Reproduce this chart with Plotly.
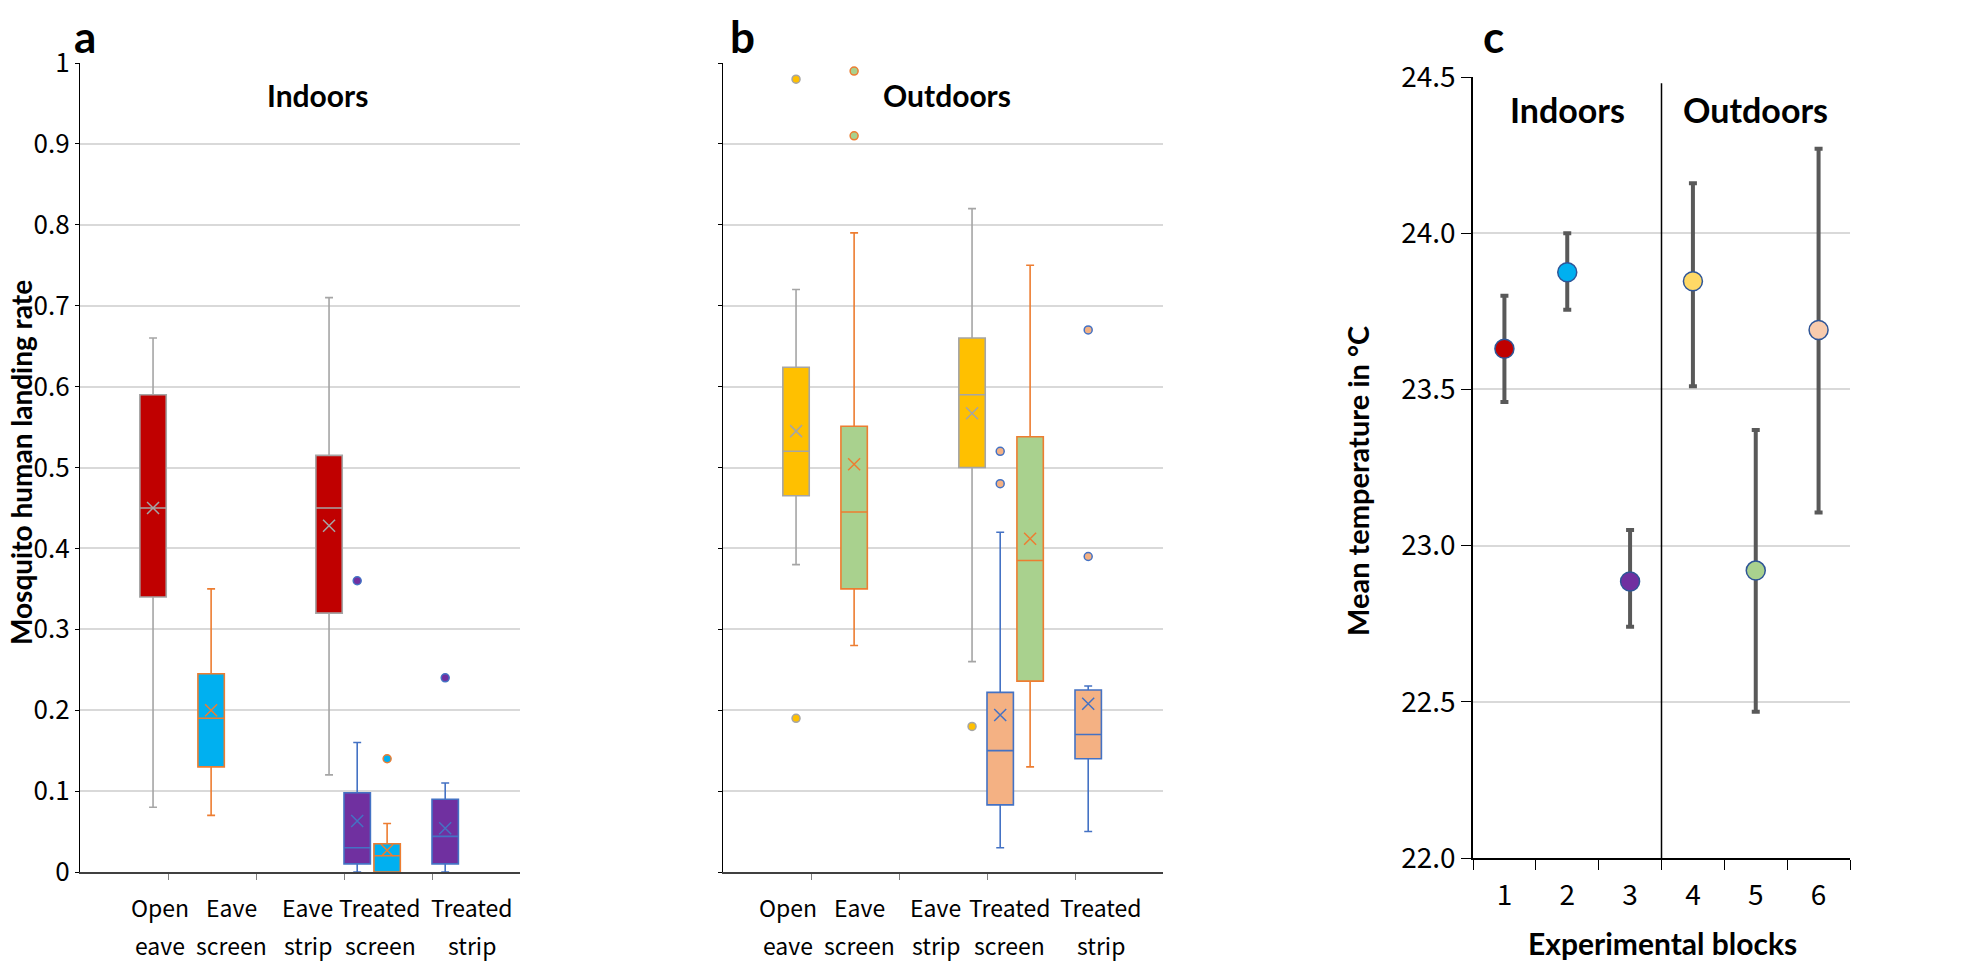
import plotly.graph_objects as go

# ---------------- DATA ----------------
categories = ["Open eave", "Eave screen", "Eave strip", "Treated screen", "Treated strip"]

# Panel a (Indoors) boxes, left to right
in_low    = [0.08, 0.07, 0.12, 0.00, 0.00, 0.00]
in_q1     = [0.34, 0.13, 0.32, 0.01, 0.00, 0.01]
in_median = [0.45, 0.19, 0.45, 0.03, 0.02, 0.044]
in_q3     = [0.59, 0.245, 0.515, 0.098, 0.035, 0.09]
in_high   = [0.66, 0.35, 0.71, 0.16, 0.06, 0.11]
in_mean   = [0.45, 0.20, 0.428, 0.063, 0.027, 0.054]
in_outliers = [[], [], [], [0.36], [0.14], [0.24]]

# Panel b (Outdoors) boxes, left to right
out_low    = [0.38, 0.28, 0.26, 0.03, 0.13, 0.05]
out_q1     = [0.465, 0.35, 0.50, 0.083, 0.236, 0.14]
out_median = [0.52, 0.445, 0.59, 0.15, 0.385, 0.17]
out_q3     = [0.624, 0.551, 0.66, 0.222, 0.538, 0.225]
out_high   = [0.72, 0.79, 0.82, 0.42, 0.75, 0.23]
out_mean   = [0.545, 0.504, 0.567, 0.194, 0.412, 0.208]
out_outliers = [[0.98, 0.19], [0.99, 0.91], [0.18], [0.52, 0.48], [], [0.67, 0.39]]

# Panel c temperatures
blocks = ["1", "2", "3", "4", "5", "6"]
temp_mean  = [23.63, 23.875, 22.885, 23.846, 22.92, 23.69]
temp_upper = [23.80, 24.00, 23.05, 24.16, 23.37, 24.27]
temp_lower = [23.46, 23.755, 22.74, 23.51, 22.468, 23.106]

y_ticks_a = [0, 0.1, 0.2, 0.3, 0.4, 0.5, 0.6, 0.7, 0.8, 0.9, 1]
y_ticks_c = [22.0, 22.5, 23.0, 23.5, 24.0, 24.5]

# ---------------- STYLE / LAYOUT ----------------
W, H = 1961, 966
OFF = 8  # page body margin
def px(x): return (x - OFF) / W
def py(y): return 1 - (y - OFF) / H

box_pos = [0.83, 1.49, 2.83, 3.15, 3.49, 4.15]
in_fill = ["#C00000", "#00B0F0", "#C00000", "#7030A0", "#00B0F0", "#7030A0"]
out_fill = ["#FFC000", "#A9D18E", "#FFC000", "#F4B183", "#A9D18E", "#F4B183"]
edge = ["#A5A5A5", "#ED7D31", "#A5A5A5", "#4472C4", "#ED7D31", "#4472C4"]
temp_colors = ["#C00000", "#00B0F0", "#7030A0", "#FFD966", "#A9D18E", "#F8CBAD"]

REG = "Noto Sans CJK SC, Roboto, sans-serif"
BOLD = "Lato, Open Sans, sans-serif"

fig = go.Figure()

def add_panel(xa, ya, low, q1, med, q3, high, mean, outl, fills):
    for i in range(len(q1)):
        fig.add_trace(go.Box(
            x=[box_pos[i]], q1=[q1[i]], median=[med[i]], q3=[q3[i]],
            lowerfence=[low[i]], upperfence=[high[i]],
            width=0.30, whiskerwidth=0.3, boxpoints=False,
            fillcolor=fills[i], line=dict(color=edge[i], width=1.6),
            xaxis=xa, yaxis=ya, showlegend=False, hoverinfo="skip"))
        fig.add_trace(go.Scatter(
            x=[box_pos[i]], y=[mean[i]], mode="markers",
            marker=dict(symbol="x-thin", size=12, line=dict(width=1.5, color=edge[i])),
            xaxis=xa, yaxis=ya, showlegend=False, hoverinfo="skip"))
        if outl[i]:
            fig.add_trace(go.Scatter(
                x=[box_pos[i]] * len(outl[i]), y=outl[i], mode="markers",
                marker=dict(symbol="circle", size=8, color=fills[i],
                            line=dict(width=1.5, color=edge[i])),
                xaxis=xa, yaxis=ya, showlegend=False, hoverinfo="skip"))

add_panel("x", "y", in_low, in_q1, in_median, in_q3, in_high, in_mean, in_outliers, in_fill)
add_panel("x2", "y2", out_low, out_q1, out_median, out_q3, out_high, out_mean, out_outliers, out_fill)

fig.add_trace(go.Scatter(
    x=blocks, y=temp_mean, mode="markers",
    error_y=dict(type="data", symmetric=False,
                 array=[u - m for u, m in zip(temp_upper, temp_mean)],
                 arrayminus=[m - l for m, l in zip(temp_mean, temp_lower)],
                 color="#595959", thickness=4, width=4),
    marker=dict(size=19, color=temp_colors, line=dict(width=1.5, color="#2F5597")),
    xaxis="x3", yaxis="y3", showlegend=False, hoverinfo="skip"))

grid = "#D9D9D9"
ydom = [py(872), py(63)]
common_y = dict(range=[0, 1], tickvals=y_ticks_a, showgrid=True, gridcolor=grid, gridwidth=1.5,
                showline=True, linecolor="#000000", linewidth=1.3, ticks="outside", ticklen=4,
                tickcolor="#000000", zeroline=False, domain=ydom, automargin=False)
common_x = dict(range=[0, 5], showgrid=False, zeroline=False, showline=True, linecolor="#404040",
                linewidth=1.5, ticks="outside", tickvals=[1, 2, 3, 4], ticklen=6, tickcolor="#808080",
                showticklabels=False, automargin=False)

fig.update_layout(
    template="none",
    width=W, height=H, margin=dict(l=0, r=0, t=0, b=0, pad=0, autoexpand=False),
    paper_bgcolor="white", plot_bgcolor="white",
    xaxis=dict(domain=[px(80), px(520)], anchor="y", **common_x),
    yaxis=dict(anchor="x", ticktext=[f"{v:g}" for v in y_ticks_a],
               tickfont=dict(family=REG, size=26, color="#000000"), **common_y),
    xaxis2=dict(domain=[px(723), px(1163)], anchor="y2", **common_x),
    yaxis2=dict(anchor="x2", showticklabels=False, **common_y),
    xaxis3=dict(domain=[px(1473), px(1850)], anchor="y3", type="category",
                categoryorder="array", categoryarray=blocks, range=[-0.5, 5.5],
                tickson="boundaries", ticks="outside", ticklen=10, tickcolor="#000000",
                ticklabelstandoff=12, automargin=False,
                showline=True, linecolor="#000000", linewidth=1.5, showgrid=False,
                tickfont=dict(family=REG, size=28, color="#000000")),
    yaxis3=dict(domain=[py(858), py(77)], anchor="x3", range=[22, 24.5], tickvals=y_ticks_c,
                tickformat=".1f", showgrid=True, gridcolor=grid, gridwidth=1.5, automargin=False,
                showline=True, linecolor="#000000", linewidth=1.5, ticks="outside", ticklen=10,
                tickcolor="#000000", zeroline=False,
                tickfont=dict(family=REG, size=28, color="#000000")),
)

# divider in panel c between indoor and outdoor blocks
fig.add_shape(type="line", xref="x3", yref="y3", x0=2.5, x1=2.5, y0=22, y1=24.48,
              line=dict(color="#000000", width=1.5))

ann = []
def text(x, y, s, size, fam, xref="paper", angle=0, bold=False):
    ann.append(dict(x=x, y=y, xref=xref, yref="paper", text=(f"<b>{s}</b>" if bold else s),
                    showarrow=False, textangle=angle, xanchor="center", yanchor="middle",
                    font=dict(family=fam, size=size, color="#000000")))

# panel letters
text(px(85), py(36), "a", 44, BOLD, bold=True)
text(px(742), py(36), "b", 44, BOLD, bold=True)
text(px(1493), py(36), "c", 44, BOLD, bold=True)
# panel titles
text(px(317), py(95), "Indoors", 30, BOLD, bold=True)
text(px(947), py(95), "Outdoors", 30, BOLD, bold=True)
text(px(1567), py(110), "Indoors", 34, BOLD, bold=True)
text(px(1755), py(110), "Outdoors", 34, BOLD, bold=True)
# axis titles
text(px(21), py(463), "Mosquito human landing rate", 28, BOLD, angle=-90, bold=True)
text(px(1357), py(481), "Mean temperature in °C", 29, BOLD, angle=-90, bold=True)
text(px(1662), py(943), "Experimental blocks", 30, BOLD, bold=True)

# category labels (two lines)
lab_a = [0.91, 1.72, 2.59, 3.41, 4.45]
lab_b = [0.74, 1.55, 2.42, 3.26, 4.30]
for xref, poss in (("x", lab_a), ("x2", lab_b)):
    for c, p in zip(categories, poss):
        w1, w2 = c.split(" ", 1)
        text(p, py(907), w1, 23, REG, xref=xref)
        text(p, py(945), w2, 23, REG, xref=xref)

fig.update_layout(annotations=ann)
fig.write_html("out.html")
